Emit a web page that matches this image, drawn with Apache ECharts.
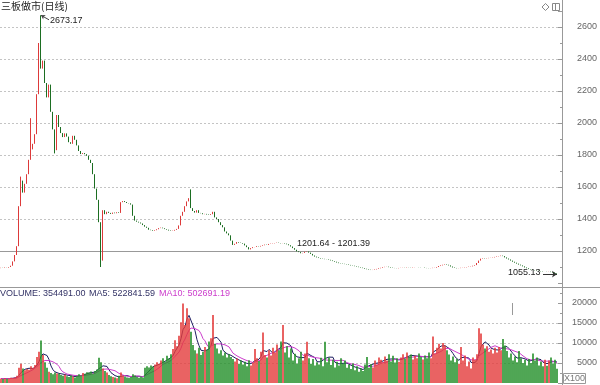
<!DOCTYPE html>
<html><head><meta charset="utf-8">
<script src="https://cdn.jsdelivr.net/npm/echarts@6/dist/echarts.min.js"></script>
<style>html,body{margin:0;padding:0;background:#fff}#c{width:600px;height:385px}</style>
</head><body><div id="c"></div>
<script>
// Daily closes of 三板做市 index (one per candle)
const closes = [
1095,1094,1097,1096,1100,1108,1135,1175,1230,1480,
1640,1565,1620,1680,1770,1835,1870,1930,2180,2500,
2340,2390,2250,2160,2240,2070,1960,1830,2050,1975,
1937,1912,1935,1915,1880,1870,1920,1895,1860,1825,
1806,1812,1805,1795,1770,1750,1680,1590,1520,1380,
1140,1455,1430,1445,1438,1432,1440,1436,1442,1438,
1505,1512,1506,1500,1498,1490,1420,1390,1383,1378,
1372,1362,1352,1345,1333,1330,1326,1330,1336,1343,
1346,1342,1337,1333,1328,1325,1327,1332,1338,1360,
1420,1445,1480,1510,1530,1468,1450,1440,1455,1438,
1436,1430,1432,1428,1425,1430,1445,1410,1400,1380,
1362,1348,1322,1310,1298,1265,1238,1245,1256,1252,
1250,1246,1235,1224,1210,1218,1224,1225,1230,1228,
1232,1236,1240,1238,1244,1246,1248,1250,1252,1250,
1248,1249,1246,1242,1236,1228,1218,1208,1198,1193,
1186,1188,1195,1197,1190,1182,1172,1165,1160,1156,
1153,1151,1149,1148,1145,1141,1137,1133,1128,1124,
1122,1120,1118,1116,1113,1110,1108,1105,1102,1099,
1096,1093,1089,1086,1083,1081,1082,1085,1088,1092,
1095,1099,1101,1102,1099,1096,1094,1093,1092,1094,
1095,1096,1095,1097,1096,1095,1097,1098,1098,1097,
1096,1096,1094,1093,1092,1093,1095,1096,1100,1106,
1110,1114,1117,1114,1110,1103,1097,1094,1092,1093,
1095,1096,1098,1100,1102,1104,1108,1112,1125,1140,
1152,1155,1153,1155,1157,1158,1160,1163,1166,1168,
1171,1168,1160,1153,1147,1140,1133,1127,1121,1115,
1110,1104,1097,1092,1087,1084,1081,1079,1077,1075,
1073,1071,1071,1070,1071,1068,1065,1060,1055.13
];
const firstOpen = 1093;
// [index, high, low] for candles with visible shadows
const wicks = [[10,1665,null],[15,2030,null],[20,2673.17,null],[27,null,1810],[50,null,1100],[95,1585,null]];
// Volume in units of 100
const volumes = [
1100,1000,1200,1050,1150,1300,1250,1400,1800,3800,
4800,3600,3200,3500,3300,4200,3800,4500,6500,7800,
10600,7000,5200,3800,2800,2500,2200,2600,2400,2300,
2000,1800,2100,1700,1500,1900,1600,1400,1800,2200,
1900,2500,2300,2700,2600,2900,2400,3000,3400,6300,
5200,3600,3000,2600,2000,1700,1500,1400,1200,1800,
2600,1900,1600,1400,1300,1500,2200,1900,1500,1300,
1600,1400,3800,4200,3900,4400,4100,4600,5200,4800,
5600,6200,5400,6800,6100,7200,8500,10700,9200,11800,
15200,19900,14500,18700,16200,12800,9500,8200,7400,8800,
7000,7800,9000,8300,10400,11200,17000,9800,8600,7400,
8200,6900,7600,6400,7200,6500,6000,5400,6100,4800,
5600,4600,5300,4200,5700,4400,5100,8500,6200,5500,
7800,12600,7000,6400,8200,6900,8800,7600,9600,8200,
10400,14500,7600,9200,6400,8600,5600,7300,4800,6200,
7800,5600,7400,10300,6200,4800,6000,4400,5200,4600,
6300,4200,10300,5200,6400,4500,5800,3900,5300,4400,
6200,4800,5600,3800,4600,3500,4900,3200,4200,2800,
3600,3000,4600,6500,3800,4700,3900,5600,4600,6400,
5800,5200,6600,5600,7200,5400,6800,5100,6200,5300,
6400,7200,6100,7600,6600,7100,5900,6800,6200,7400,
6500,5900,6900,6200,7600,6200,11600,7400,8800,9800,
8600,10000,9400,8200,7100,5600,6600,5200,6000,4800,
9000,5600,6900,4200,5400,3600,6400,5800,7200,13700,
12400,9600,8600,9200,7800,8400,7400,8800,7600,9000,
8200,11000,9400,8000,6400,7400,5600,6600,5200,8000,
6200,5000,5800,4400,6000,5000,7400,5600,6400,4400,
5400,4200,5800,4300,5600,6400,4800,5800,3545
];
const priceGrid = [1400,1600,1800,2000,2200,2400,2600];
const volGrid = [5000,10000,15000];
const refLevel = 1201.5;
const peakIdx = 20, peakVal = 2673.17;
const refLabelIdx = 148;

const UP = '#e43c3c', DOWN = '#24902a';
const CANDLE_UP = '#dd3a3a', CANDLE_DOWN = '#1c6e22';
const cats = closes.map((_, i) => String(i));
const candle = closes.map((c, i) => {
  const o = i === 0 ? firstOpen : closes[i - 1];
  let hi = Math.max(o, c), lo = Math.min(o, c);
  wicks.forEach(w => { if (w[0] === i) { if (w[1] != null) hi = w[1]; if (w[2] != null) lo = w[2]; } });
  return [o, c, lo, hi];
});
const volData = volumes.map((v, i) => ({ value: v, itemStyle: { color: candle[i][1] >= candle[i][0] ? UP : DOWN } }));
function ma(n) {
  return volumes.map((_, i) => {
    const s = Math.max(0, i - n + 1); let sum = 0;
    for (let j = s; j <= i; j++) sum += volumes[j];
    return +(sum / (i - s + 1)).toFixed(1);
  });
}
const lastIdx = closes.length - 1;
const lastVal = closes[lastIdx];

const axisCommon = {
  position: 'right', offset: 4,
  axisLine: { show: false },
  axisTick: { show: true, inside: true, length: 4, lineStyle: { color: '#999' } },
  minorTick: { show: true, splitNumber: 2, length: 2, lineStyle: { color: '#999' } },
  splitLine: { show: false },
  axisLabel: { align: 'right', margin: 35, fontSize: 9, color: '#666', fontFamily: 'Arial', showMinLabel: false, showMaxLabel: false, formatter: v => String(v) }
};
const dotted = { type: [2, 2], color: '#c4c4c4', width: 1 };

const chart = echarts.init(document.getElementById('c'), null, { renderer: 'canvas' });
chart.setOption({
  animation: false,
  backgroundColor: '#fff',
  grid: [
    { left: 0, right: 42, top: 11, height: 272 },
    { left: 0, right: 42, top: 287, height: 96 }
  ],
  xAxis: [
    { type: 'category', data: cats, gridIndex: 0, show: false, boundaryGap: true },
    { type: 'category', data: cats, gridIndex: 1, show: false, boundaryGap: true }
  ],
  yAxis: [
    Object.assign({}, axisCommon, { gridIndex: 0, min: 1000, max: 2700, interval: 200 }),
    Object.assign({}, axisCommon, { gridIndex: 1, min: 0, max: 24000, interval: 5000 })
  ],
  series: [
    {
      type: 'candlestick', xAxisIndex: 0, yAxisIndex: 0, data: candle,
      barWidth: 1,
      itemStyle: { color: CANDLE_UP, color0: CANDLE_DOWN, borderColor: CANDLE_UP, borderColor0: CANDLE_DOWN, borderWidth: 1 },
      markLine: {
        silent: true, symbol: ['none', 'none'], label: { show: false }, z: 1,
        data: priceGrid.map(v => ({ yAxis: v, lineStyle: dotted })).concat([
          { yAxis: refLevel, lineStyle: { type: 'solid', color: '#999', width: 1 } },
          [{ coord: [peakIdx + 4, 2645], symbol: 'none' }, { coord: [peakIdx, peakVal], symbol: 'arrow', symbolSize: 4, lineStyle: { type: 'solid', color: '#444', width: 1 } }],
          [{ coord: [lastIdx - 7, lastVal], symbol: 'none' }, { coord: [lastIdx, lastVal], symbol: 'arrow', symbolSize: 5, lineStyle: { type: 'solid', color: '#333', width: 1 } }]
        ])
      },
      markPoint: {
        silent: true, symbolSize: 0,
        label: { show: true, fontSize: 9, fontFamily: 'Arial', color: '#222' },
        data: [
          { coord: [peakIdx, peakVal], label: { formatter: '2673.17', position: [9, 1] } },
          { coord: [lastIdx, lastVal], label: { formatter: '1055.13', position: [-49, -6] } },
          { coord: [refLabelIdx, refLevel], label: { formatter: '1201.64 - 1201.39', position: [0, -12] } }
        ]
      }
    },
    {
      type: 'bar', xAxisIndex: 1, yAxisIndex: 1, data: volData, barCategoryGap: '20%', z: 3
    },
    {
      type: 'line', xAxisIndex: 1, yAxisIndex: 1, data: ma(5), symbol: 'none', z: 2,
      lineStyle: { color: '#1e1e62', width: 1 },
      markLine: { silent: true, symbol: ['none', 'none'], label: { show: false }, z: 1, data: volGrid.map(v => ({ yAxis: v, lineStyle: dotted })) }
    },
    {
      type: 'line', xAxisIndex: 1, yAxisIndex: 1, data: ma(10), symbol: 'none', z: 2,
      lineStyle: { color: '#cc3ccc', width: 1 }
    }
  ],
  graphic: [
    { type: 'line', shape: { x1: 562.5, y1: 0, x2: 562.5, y2: 385 }, style: { stroke: '#999', lineWidth: 1 }, z: 10 },
    { type: 'line', shape: { x1: 0, y1: 287.5, x2: 600, y2: 287.5 }, style: { stroke: '#999', lineWidth: 1 }, z: 10 },
    { type: 'text', left: 1, top: 1, style: { text: '三板做市(日线)', fontSize: 10, fontFamily: 'Noto Sans CJK SC', fill: '#222' } },
    { type: 'text', left: 0, top: 289, style: { text: 'VOLUME: 354491.00', fontSize: 9, fontFamily: 'Arial', fill: '#333366' } },
    { type: 'text', left: 89, top: 289, style: { text: 'MA5: 522841.59', fontSize: 9, fontFamily: 'Arial', fill: '#333366' } },
    { type: 'text', left: 159, top: 289, style: { text: 'MA10: 502691.19', fontSize: 9, fontFamily: 'Arial', fill: '#cc3ccc' } },
    { type: 'rect', shape: { x: 563.5, y: 373.5, width: 22, height: 10 }, style: { fill: '#fff', stroke: '#999', lineWidth: 1 }, z: 10 },
    { type: 'text', x: 574.5, y: 379, style: { text: 'X100', fontSize: 9, fontFamily: 'Arial', fill: '#777', align: 'center', verticalAlign: 'middle' }, z: 11 },
    { type: 'polygon', shape: { points: [[545.5, 3.5], [549, 7], [545.5, 10.5], [542, 7]] }, style: { fill: 'none', stroke: '#888', lineWidth: 1 } },
    { type: 'rect', shape: { x: 552.5, y: 3.5, width: 7, height: 7 }, style: { fill: 'none', stroke: '#888', lineWidth: 1 } },
    { type: 'line', shape: { x1: 555.5, y1: 3.5, x2: 555.5, y2: 10.5 }, style: { stroke: '#888', lineWidth: 1 } },
    { type: 'line', shape: { x1: 512.5, y1: 303, x2: 512.5, y2: 315 }, style: { stroke: '#999', lineWidth: 1 } }
  ]
});
</script>
</body></html>
